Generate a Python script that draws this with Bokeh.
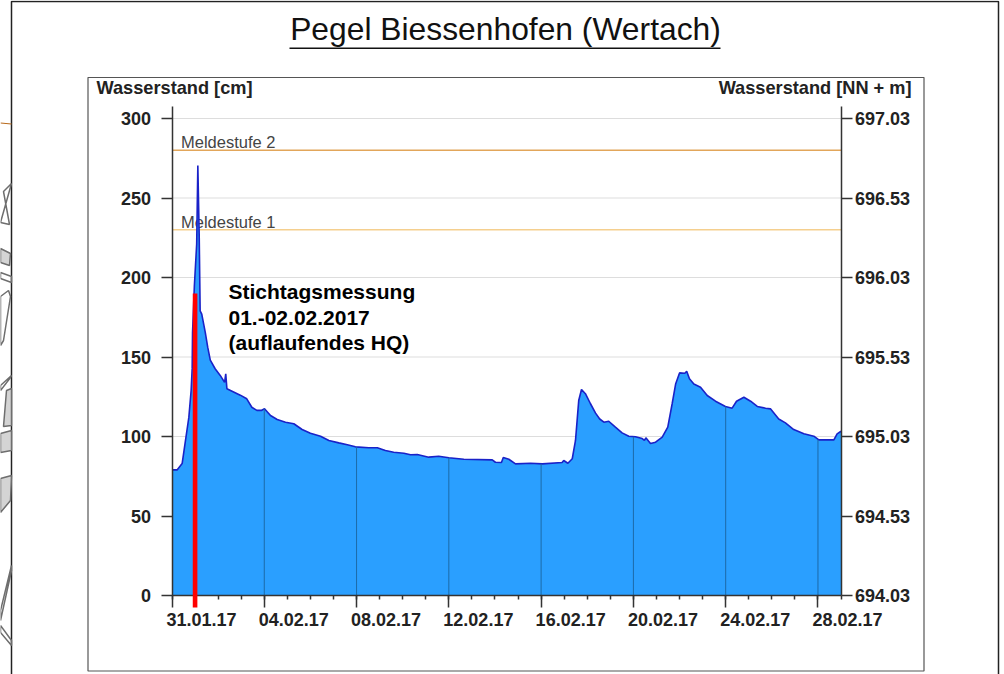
from bokeh.plotting import figure
from bokeh.embed import file_html
from bokeh.resources import INLINE
from bokeh.core.properties import value
from bokeh.models import (Range1d, LinearAxis, FixedTicker, BoxAnnotation, Label,
                          PolyAnnotation, NumeralTickFormatter)

# --- data ---------------------------------------------------------------
days = [0, .22, .44, .585, .73, .83, .875, .89, .97, 1.07, 1.12, 1.18, 1.22, 1.29, 1.44, 1.55, 1.66, 1.87, 2.09, 2.28, 2.33, 2.38,
        2.67, 2.96, 3.24, 3.46, 3.68, 3.87, 4.01, 4.27, 4.56, 4.92, 5.28, 5.64, 6.0, 6.44, 6.8, 7.23, 7.6, 7.95, 8.53, 8.9,
        9.25, 9.61, 10.05, 10.34, 10.63, 11.13, 11.56, 12.0, 12.65, 13.88, 14.02, 14.28, 14.36, 14.6, 14.89, 15.54, 16.05,
        16.91, 16.98, 17.16, 17.35, 17.49, 17.56, 17.63, 17.75, 17.92, 18.14, 18.36, 18.54, 18.72, 18.93, 19.22, 19.51,
        19.8, 20.09, 20.38, 20.48, 20.54, 20.74, 20.96, 21.25, 21.49, 21.68, 21.83, 22.0, 22.23, 22.31, 22.43, 22.62, 22.91,
        23.2, 23.56, 23.99, 24.28, 24.47, 24.79, 25.08, 25.37, 25.73, 25.94, 26.3, 26.59, 26.95, 27.39, 27.82, 28.04,
        28.69, 28.83, 29.0]
level_cm = [79, 79, 83, 97.5, 112, 129, 143, 165, 195, 221, 270.4, 226, 179, 177, 165.6, 156, 148, 142.6, 138.4, 134, 139.4, 130,
            128, 126, 123.7, 118.4, 116.4, 116.4, 117.4, 113.2, 110.7, 109, 108, 104.4, 102, 100.2, 97.5, 96, 94.8, 93.5, 92.9, 92.9,
            91.2, 90.1, 89.5, 88.5, 88.7, 87, 87.6, 86.6, 85.7, 85.3, 83.8, 83.6, 86.8, 85.7, 82.8, 83.2, 82.8,
            83.6, 84.9, 83.2, 86, 97.5, 110, 122.6, 129.6, 126.9, 120.6, 114.7, 111, 109, 109.6, 105.9, 102.3,
            100.2, 99.8, 98.7, 97.5, 99.2, 95.6, 96.4, 99.6, 105.9, 120.6, 133, 140, 139.8, 141, 136.3, 133, 131,
            125.8, 122.2, 118.9, 117.8, 122.2, 124.7, 122.2, 118.9, 117.8, 117.4, 111, 108.6, 104.4, 101.7, 100.2, 97.9,
            97.9, 101.7, 103.3]
tick_days = [0, 4, 8, 12, 16, 20, 24, 28]
tick_labels = ["31.01.17", "04.02.17", "08.02.17", "12.02.17", "16.02.17", "20.02.17", "24.02.17", "28.02.17"]
drop_days = [4, 8, 12, 16, 20, 24, 28]
drop_tops = [117.4, 93.5, 86.6, 82.8, 99.8, 118.9, 97.9]
cm_ticks = [0, 50, 100, 150, 200, 250, 300]
nn_ticks = [694.03, 694.53, 695.03, 695.53, 696.03, 696.53, 697.03]
warn_levels = [280, 230]
warn_names = ["Meldestufe 2", "Meldestufe 1"]
warn_colors = ["#e2a65a", "#f5cf8e"]
survey_day = 1.0
survey_top = 190
survey_bottom = -7.5
note_lines = ["Stichtagsmessung", "01.-02.02.2017", "(auflaufendes HQ)"]

# --- figure: the frame fills the whole canvas, the axes are placed inside ---
INK = "#222222"
X0, X1 = 0, 29
Y1 = 307.5
PXD, PXV = 23.07, 1.59          # pixels per day, pixels per cm
xr = Range1d(-171.5 / PXD, (1004 - 171.5) / PXD)
yr = Range1d(-(674 - 595) / PXV, 595 / PXV)
p = figure(width=1004, height=674, output_backend="svg", toolbar_location=None,
           x_range=xr, y_range=yr, min_border=0, x_axis_location=None, y_axis_location=None,
           outline_line_color=None,
           styles={"position": "absolute", "left": "0px", "top": "0px"})
p.extra_y_ranges = {"nn": Range1d(694.03 + yr.start / 100, 694.03 + yr.end / 100)}
p.grid.visible = False

# horizontal grid
p.segment([X0] * len(cm_ticks[1:]), cm_ticks[1:], [X1] * len(cm_ticks[1:]), cm_ticks[1:],
          line_color="#dddddd", line_width=1)

# warning levels
for lv, nm, col in zip(warn_levels, warn_names, warn_colors):
    p.line([X0, X1], [lv, lv], line_color=col, line_width=1.5)
    p.text([0.39], [lv], text=[nm], text_font=value("Liberation Sans"), text_font_size="16.5px",
           text_color="#444444", text_baseline="bottom", y_offset=1)

# water level
p.varea(days, [0] * len(days), level_cm, fill_color="#2a9fff")
p.line(days, level_cm, line_color="#1a22c8", line_width=1.6)
p.segment(drop_days, [0] * len(drop_days), drop_days, drop_tops, line_color="#1c6aa8", line_width=1)

# survey bar, running a little below the axis
p.quad(left=[survey_day - 0.1], right=[survey_day + 0.1], top=[survey_top], bottom=[survey_bottom],
       fill_color="#ff0000", line_color=None, level="overlay")

# axes
lax = LinearAxis(ticker=FixedTicker(ticks=cm_ticks), fixed_location=X0, bounds=(0, Y1))
rax = LinearAxis(y_range_name="nn", ticker=FixedTicker(ticks=nn_ticks),
                 formatter=NumeralTickFormatter(format="0.00"), fixed_location=X1,
                 bounds=(694.03, 694.03 + Y1 / 100))
p.add_layout(lax, "left")
p.add_layout(rax, "right")
for ax in (lax, rax):
    ax.axis_line_color = "#333333"
    ax.axis_line_width = 1.5
    ax.major_tick_line_color = "#333333"
    ax.major_tick_line_width = 1.5
    ax.major_tick_out = 11
    ax.major_tick_in = 0
    ax.minor_tick_line_color = None
    ax.major_label_text_font = "Liberation Sans"
    ax.major_label_text_font_style = "bold"
    ax.major_label_text_font_size = "18px"
    ax.major_label_text_color = INK
lax.major_label_standoff = 10
rax.major_label_standoff = 3

xax = LinearAxis(ticker=FixedTicker(ticks=tick_days, minor_ticks=list(range(X0, X1 + 1))),
                 fixed_location=0, bounds=(X0, X1),
                 major_label_overrides={d: "" for d in tick_days})
p.add_layout(xax, "below")
xax.axis_line_color = "#333333"
xax.axis_line_width = 1.5
xax.major_tick_line_color = "#333333"
xax.major_tick_line_width = 1.5
xax.major_tick_out = 12
xax.major_tick_in = 0
xax.minor_tick_line_color = "#333333"
xax.minor_tick_line_width = 1.5
xax.minor_tick_out = 4
xax.minor_tick_in = 0

# x tick labels sit to the right of their ticks in the original
p.text(tick_days, [0] * len(tick_days), text=tick_labels, x_offset=-5.5, y_offset=30.3,
       text_align="left", text_baseline="bottom", text_font=value("Liberation Sans"),
       text_font_style="bold", text_font_size="18px", text_color=INK)


def label(x, base, text, size, style="normal", align="left", color=INK):
    p.add_layout(Label(x=x, y=base - 0.36 * size, x_units="canvas", y_units="canvas", text=text,
                       text_font="Liberation Sans", text_font_size=f"{size}px", text_font_style=style,
                       text_align=align, text_baseline="alphabetic", text_color=color))


def frame(l, t, r, b, color, width, fill=None):
    p.add_layout(BoxAnnotation(left=l, right=r, top=t, bottom=b, left_units="canvas", right_units="canvas",
                               top_units="canvas", bottom_units="canvas", fill_color=fill,
                               fill_alpha=1 if fill else 0, line_color=color, line_alpha=1,
                               line_width=width, level="underlay"))


label(505, 40, "Pegel Biessenhofen (Wertach)", 31.8, color="#111111", align="center")
frame(289, 47, 720, 48.5, None, 0, fill="#111111")
label(96, 94, "Wasserstand [cm]", 18.2, "bold")
label(911, 94, "Wasserstand [NN + m]", 18.2, "bold", align="right")
for txt, base in zip(note_lines, [299, 325, 350]):
    label(228, base, txt, 21, "bold", color="#000000")

frame(87.5, 77, 923.5, 670.5, "#555555", 1.2)
frame(11, 1, 998, 700, "#222222", 1.5)

# fragments of the map left of the slide
p.add_layout(PolyAnnotation(xs=[0, 11, 11, 0], ys=[122, 123, 124, 123], xs_units="canvas", ys_units="canvas",
                            fill_color="#b86a1c", fill_alpha=1, line_color=None))
for xs, ys, fill in [([11, 3, 9, 0], [183, 191, 224, 222], None),
                     ([0, 10, 9, 0], [248, 253, 265, 262], "#d4d4d4"),
                     ([0, 11, 11, 0], [272, 276, 282, 278], None),
                     ([0, 8, 10, 3, 0], [296, 290, 296, 340, 345], None),
                     ([0, 11, 10, 0], [385, 375, 377, 390], None),
                     ([6, 11, 11, 3], [390, 388, 425, 426], "#d4d4d4"),
                     ([0, 11, 11, 0], [433, 430, 450, 452], "#d4d4d4"),
                     ([0, 11, 10, 0], [478, 475, 500, 512], "#d4d4d4"),
                     ([0, 11, 11, 0], [610, 565, 570, 620], None),
                     ([0, 11, 11, 0], [625, 640, 645, 632], None)]:
    p.add_layout(PolyAnnotation(xs=xs, ys=ys, xs_units="canvas", ys_units="canvas",
                                fill_color=fill or "#ffffff", fill_alpha=1 if fill else 0,
                                line_color="#6e6e6e", line_alpha=1, line_width=1.5))

open("out.html", "w").write(file_html(p, INLINE))
